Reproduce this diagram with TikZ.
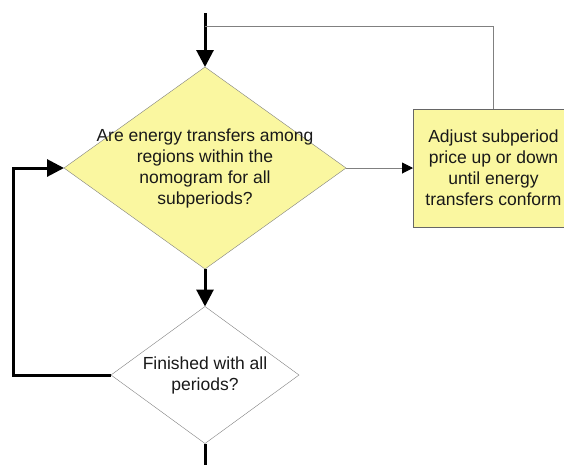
\documentclass[tikz,border=0pt]{standalone}
\usepackage{fontspec}
\setmainfont{Liberation Sans}
\usetikzlibrary{shapes.geometric, arrows.meta, positioning}

\definecolor{pale}{RGB}{250,247,160}
\definecolor{edge}{RGB}{128,128,128}

\begin{document}
\begin{tikzpicture}[
        x=1pt, y=1pt,
        decisionBlock/.style={
            diamond, draw=edge, fill=pale, inner sep=0pt, outer sep=0pt
        },
        plainDecision/.style={
            diamond, draw=edge, fill=white, inner sep=0pt, outer sep=0pt
        },
        actionBlock/.style={
            rectangle, draw=edge!80!black, fill=pale, inner sep=0pt, outer sep=0pt,
            minimum width=161pt, minimum height=118pt
        },
        blockText/.style={
            align=center, font=\fontsize{17.5}{21}\selectfont, text=black!90
        },
        arrow/.style={
            line width=3pt, -{Triangle[length=17pt, width=17pt]}
        },
        thinArrow/.style={
            draw=edge, line width=1pt, -{Triangle[length=11pt, width=11pt, black]}
        }
    ]
        \useasboundingbox (0,0) rectangle (564,-464);

        % Nodes
        \node (check) [decisionBlock, minimum width=282pt, minimum height=202pt] at (205,-168)
            {};
        \node (checkText) [blockText] at (check.center)
            {Are energy transfers among\\regions within the\\nomogram for all\\subperiods?};
        \node (adjust) [actionBlock, blockText] at (493.5,-168)
            {Adjust subperiod\\price up or down\\until energy\\transfers conform};
        \node (finished) [plainDecision, minimum width=188pt, minimum height=137pt] at (205,-375)
            {};
        \node (finishedText) [blockText] at (finished.center)
            {Finished with all\\periods?};

        \coordinate (entry) at (205,-13);
        \coordinate (merge) at (205,-26);
        \coordinate (loopCorner) at (13,-375);
        \coordinate (exit) at (205,-470);

        % Arrows
        \draw [arrow] (entry) -- (check.north);
        \draw [draw=edge, line width=1pt] (adjust.north) |- (merge);
        \draw [thinArrow] (check.east) -- (adjust.west);
        \draw [arrow] (check.south) -- (finished.north);
        \draw [arrow] (finished.west) -- (loopCorner) |- (check.west);
        \draw [line width=3pt] (finished.south) -- (exit);
    \end{tikzpicture}
\end{document}
